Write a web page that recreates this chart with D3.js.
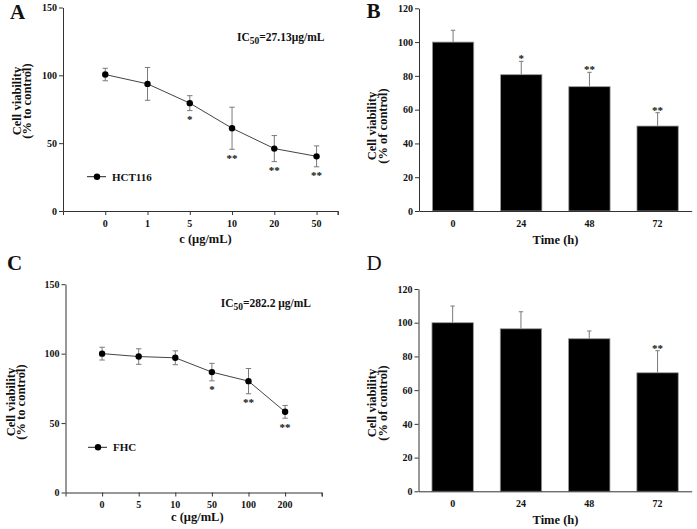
<!DOCTYPE html>
<html>
<head>
<meta charset="utf-8">
<script src="https://cdn.jsdelivr.net/npm/d3@7"></script>
<style>
  html, body { margin: 0; padding: 0; background: #fff; }
  svg { display: block; }
  text { font-family: "Liberation Serif", "Times New Roman", serif; fill: #111; }
</style>
</head>
<body>
<svg id="chart" width="697" height="529"></svg>
<script>
// ---------- data ----------
const doseA = ["0", "1", "5", "10", "20", "50"];
const viabA = [100.6, 93.7, 79.5, 61.0, 46.0, 40.3];
const errA  = [4.6, 12.1, 5.5, 15.5, 9.6, 7.7];
const sigA  = ["", "", "*", "**", "**", "**"];

const timeB = ["0", "24", "48", "72"];
const viabB = [100, 80.7, 73.6, 50.3];
const errB  = [7.0, 7.9, 8.5, 7.9];
const sigB  = ["", "*", "**", "**"];

const doseC = ["0", "5", "10", "50", "100", "200"];
const viabC = [100, 97.9, 97.0, 86.7, 80.2, 58.1];
const errC  = [4.6, 5.6, 5.0, 6.3, 9.1, 4.6];
const sigC  = ["", "", "", "*", "**", "**"];

const timeD = ["0", "24", "48", "72"];
const viabD = [100, 96.4, 90.5, 70.3];
const errD  = [9.9, 10.1, 4.6, 13.1];
const sigD  = ["", "", "", "**"];

const ticksLine = [0, 50, 100, 150];
const ticksBar  = [0, 20, 40, 60, 80, 100, 120];

// ---------- drawing ----------
const svg = d3.select("#chart");
const AXIS = "#333", ERR = "#7a7a7a", LINE = "#444";

function styleAxis(g) {
  g.selectAll("path.domain").attr("stroke", AXIS).attr("stroke-width", 1);
  g.selectAll(".tick line").attr("stroke", AXIS).attr("stroke-width", 1);
  g.selectAll(".tick text")
    .attr("font-family", "Liberation Serif, serif")
    .attr("font-weight", "bold").attr("font-size", 10).attr("fill", "#111");
}

function yTitle(lines, x1, x2, cy) {
  [[lines[0], x1], [lines[1], x2]].forEach(([t, x]) => {
    svg.append("text")
      .attr("transform", `translate(${x},${cy}) rotate(-90)`)
      .attr("text-anchor", "middle")
      .attr("font-weight", "bold").attr("font-size", 12.5)
      .text(t);
  });
}

function panelLabel(t, x, y, bold) {
  svg.append("text").attr("x", x).attr("y", y)
    .attr("font-size", 21).attr("font-weight", bold ? "bold" : "normal").text(t);
}

function linePanel(o) {
  const x = d3.scaleLinear().domain([-1, o.xMax]).range(o.xr);
  const y = d3.scaleLinear().domain([0, 150]).range(o.yr);
  const idx = o.cats.map((_, i) => i);

  const gx = svg.append("g").attr("transform", `translate(0,${o.yr[0]})`)
    .call(d3.axisBottom(x).tickValues(idx.concat([o.xMax])).tickSizeOuter(0).tickSize(4).tickFormat(() => ""));
  styleAxis(gx);
  gx.selectAll(".tick text").remove();
  idx.forEach(i => {
    svg.append("text").attr("x", x(i)).attr("y", o.tickY)
      .attr("text-anchor", "middle").attr("font-weight", "bold").attr("font-size", 10)
      .text(o.cats[i]);
  });
  const gy = svg.append("g").attr("transform", `translate(${o.xr[0]},0)`)
    .call(d3.axisLeft(y).tickValues(ticksLine).tickSize(4).tickPadding(2).tickSizeOuter(0));
  styleAxis(gy);

  // error bars
  idx.forEach(i => {
    const cx = x(i), yt = y(o.vals[i] + o.errs[i]), yb = y(o.vals[i] - o.errs[i]);
    const g = svg.append("g").attr("stroke", ERR).attr("stroke-width", 1);
    g.append("line").attr("x1", cx).attr("x2", cx).attr("y1", yt).attr("y2", yb);
    g.append("line").attr("x1", cx - 2.7).attr("x2", cx + 2.7).attr("y1", yt).attr("y2", yt);
    g.append("line").attr("x1", cx - 2.7).attr("x2", cx + 2.7).attr("y1", yb).attr("y2", yb);
  });
  // line
  svg.append("path").datum(idx)
    .attr("fill", "none").attr("stroke", LINE).attr("stroke-width", 1)
    .attr("d", d3.line().x(i => x(i)).y(i => y(o.vals[i])));
  // dots
  svg.selectAll(null).data(idx).enter().append("circle")
    .attr("cx", i => x(i)).attr("cy", i => y(o.vals[i])).attr("r", 3.2).attr("fill", "#000");
  // significance
  idx.forEach(i => {
    if (!o.sig[i]) return;
    svg.append("text").attr("x", x(i)).attr("y", y(o.vals[i] - o.errs[i]) + 12.5)
      .attr("text-anchor", "middle").attr("font-weight", "bold").attr("font-size", 11)
      .attr("fill", "#555").text(o.sig[i]);
  });
  // legend
  svg.append("line").attr("x1", o.leg[0]).attr("x2", o.leg[0] + 19)
    .attr("y1", o.leg[1]).attr("y2", o.leg[1]).attr("stroke", "#222").attr("stroke-width", 1);
  svg.append("circle").attr("cx", o.leg[0] + 10).attr("cy", o.leg[1]).attr("r", 3.2).attr("fill", "#000");
  svg.append("text").attr("x", o.leg[0] + 25).attr("y", o.leg[1] + 3.8)
    .attr("font-weight", "bold").attr("font-size", 11).text(o.name);
  // IC50
  const t = svg.append("text").attr("x", o.ic[0]).attr("y", o.ic[1])
    .attr("font-weight", "bold").attr("font-size", 11.5);
  t.append("tspan").text("IC");
  t.append("tspan").attr("dy", 3).attr("font-size", 9.5).text("50");
  t.append("tspan").attr("dy", -3).text(o.icText);
  // titles
  svg.append("text").attr("x", o.xt[0]).attr("y", o.xt[1]).attr("text-anchor", "middle")
    .attr("font-weight", "bold").attr("font-size", 12.5).text("c (μg/mL)");
  yTitle(["Cell viability", "(% to control)"], o.yt[0], o.yt[1], o.yt[2]);
}

function barPanel(o) {
  const x = d3.scaleBand().domain(o.cats).range(o.xr).paddingInner(0.394).paddingOuter(0.197);
  const y = d3.scaleLinear().domain([0, 120]).range(o.yr);

  // error bars (upward)
  o.cats.forEach((c, i) => {
    const cx = x(c) + x.bandwidth() / 2, yt = y(o.vals[i] + o.errs[i]);
    const g = svg.append("g").attr("stroke", ERR).attr("stroke-width", 1);
    g.append("line").attr("x1", cx).attr("x2", cx).attr("y1", y(o.vals[i])).attr("y2", yt);
    g.append("line").attr("x1", cx - 2.2).attr("x2", cx + 2.2).attr("y1", yt).attr("y2", yt);
  });
  svg.selectAll(null).data(o.cats).enter().append("rect")
    .attr("x", c => x(c)).attr("width", x.bandwidth())
    .attr("y", (c, i) => y(o.vals[i])).attr("height", (c, i) => y(0) - y(o.vals[i]))
    .attr("fill", "#000").attr("stroke", "#9a9a9a").attr("stroke-width", 0.8);

  const gx = svg.append("g").attr("transform", `translate(0,${o.yr[0]})`)
    .call(d3.axisBottom(x).tickSize(0).tickPadding(0).tickSizeOuter(0));
  styleAxis(gx);
  gx.selectAll(".tick text").remove();
  o.cats.forEach(c => {
    svg.append("text").attr("x", x(c) + x.bandwidth() / 2).attr("y", o.tickY)
      .attr("text-anchor", "middle").attr("font-weight", "bold").attr("font-size", 10).text(c);
  });
  const gy = svg.append("g").attr("transform", `translate(${o.xr[0]},0)`)
    .call(d3.axisLeft(y).tickValues(ticksBar).tickSize(4).tickPadding(2).tickSizeOuter(0));
  styleAxis(gy);

  o.cats.forEach((c, i) => {
    if (!o.sig[i]) return;
    svg.append("text").attr("x", x(c) + x.bandwidth() / 2).attr("y", y(o.vals[i] + o.errs[i]) + 1)
      .attr("text-anchor", "middle").attr("font-weight", "bold").attr("font-size", 11)
      .attr("fill", "#555").text(o.sig[i]);
  });

  svg.append("text").attr("x", o.xt[0]).attr("y", o.xt[1]).attr("text-anchor", "middle")
    .attr("font-weight", "bold").attr("font-size", 12.5).text("Time (h)");
  yTitle(["Cell viability", "(% of control)"], o.yt[0], o.yt[1], o.yt[2]);
}

linePanel({
  cats: doseA, vals: viabA, errs: errA, sig: sigA, xMax: 5.5,
  xr: [63, 337.7], yr: [211, 7.5], tickY: 227,
  leg: [87, 176.7], name: "HCT116", ic: [237, 40.7], icText: "=27.13μg/mL",
  xt: [205.5, 243], yt: [20.5, 31, 101]
});
barPanel({
  cats: timeB, vals: viabB, errs: errB, sig: sigB,
  xr: [419, 691.7], yr: [211, 8.3], tickY: 227,
  xt: [555.5, 244], yt: [376, 386.5, 126]
});
linePanel({
  cats: doseC, vals: viabC, errs: errC, sig: sigC, xMax: 6,
  xr: [65.5, 321.7], yr: [492.5, 284.2], tickY: 508,
  leg: [88, 447.3], name: "FHC", ic: [220.7, 307], icText: "=282.2 μg/mL",
  xt: [197.3, 521], yt: [14.5, 25, 402]
});
barPanel({
  cats: timeD, vals: viabD, errs: errD, sig: sigD,
  xr: [418.5, 691.7], yr: [491.3, 289], tickY: 507,
  xt: [555.5, 523.5], yt: [376, 386.5, 403]
});

panelLabel("A", 10, 18.5, true);
panelLabel("B", 366.5, 17.5, true);
panelLabel("C", 7, 270, true);
panelLabel("D", 366.5, 269.5, false);
</script>
</body>
</html>
